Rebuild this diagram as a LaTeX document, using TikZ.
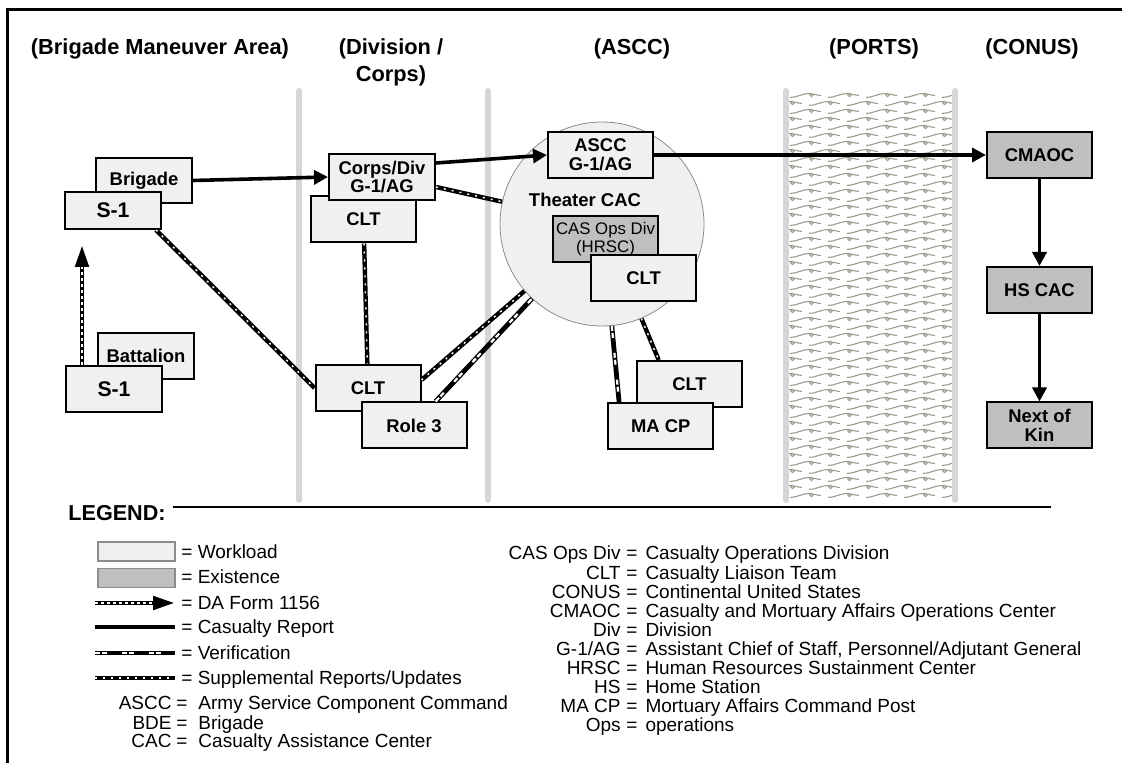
\documentclass[tikz,border=0pt]{standalone}
\usepackage{fontspec}
\setmainfont{Liberation Sans}
\usetikzlibrary{arrows.meta}
\definecolor{cwork}{HTML}{F0F0F0}
\definecolor{cexist}{HTML}{BFBFBF}
\definecolor{csep}{HTML}{D6D6D6}
\definecolor{cwave}{HTML}{9E9B8C}
\definecolor{cring}{HTML}{8C8C8C}

\begin{document}
\begin{tikzpicture}[x=0.5pt,y=-0.5pt,
  box/.style={draw,line width=1pt,fill=cwork,minimum width=52.5pt,minimum height=23pt,
    inner sep=1pt,align=center,font=\fontsize{9.2}{9.4}\selectfont\bfseries},
  exist/.style={box,fill=cexist},
  sbox/.style={box,minimum width=48pt,font=\fontsize{10.6}{12}\selectfont\bfseries},
  head/.style={font=\fontsize{10.9}{13.5}\selectfont\bfseries,align=center},
  sep/.style={csep,line width=3pt,line cap=round},
  rep/.style={line width=1.8pt,-{Triangle[length=7pt,width=7pt]}},
  dafm/.style={line width=2.4pt,-{Triangle[length=11pt,width=6.5pt]},
    postaction={draw,white,line width=1.1pt,-,shorten >=11pt,dash pattern=on 1.5pt off 1.5pt}},
  supp/.style={line width=2.2pt,postaction={draw,white,line width=0.7pt,dash pattern=on 1pt off 3pt}},
  verif/.style={line width=2.4pt,postaction={draw,white,line width=1.1pt,
    dash pattern=on 2.5pt off 1pt on 2.5pt off 7.5pt}},
  legbox/.style={draw=cring,line width=0.6pt,minimum width=38.5pt,minimum height=9.5pt,inner sep=0pt},
  leg/.style={font=\fontsize{9.5}{9.7}\selectfont,inner sep=0pt}]
  \useasboundingbox (0,0) rectangle (1130,763);
  \draw[line width=1.5pt] (7.5,763) -- (7.5,10) -- (1122,10);

  \node[head] (hbma) at (160,49) {(Brigade Maneuver Area)};
  \node[head] (hdiv) at (391,62.5) {(Division /\\Corps)};
  \node[head] (hascc) at (632,49) {(ASCC)};
  \node[head] (hports) at (874,49) {(PORTS)};
  \node[head] (hconus) at (1032,49) {(CONUS)};

  \draw[sep] (299,91) -- (299,500);
  \draw[sep] (488,91) -- (488,500);
  \begin{scope}
    \clip (786,91) rectangle (955,500);
    \foreach \r in {0,...,51}{
      \pgfmathsetmacro\yy{96+8*\r}
      \pgfmathsetmacro\xo{mod(\r,2)*19}
      \foreach \c in {0,...,5}
        \draw[cwave,line width=0.55pt,shift={({752+\xo+38*\c},\yy)}]
          (0,1.5) .. controls (7,1.5) and (12,-2.5) .. (19,-2.5)
          .. controls (23,-2.5) and (25,-1) .. (31,-0.5)
          (21.5,-1) circle (1.6);
    }
  \end{scope}
  \draw[sep] (786,91) -- (786,500);
  \draw[sep] (955,91) -- (955,500);

  \node[circle,draw=cring,line width=0.4pt,fill=cwork,minimum size=102pt,inner sep=0pt] (tcac) at (602,224) {};
  \node[font=\fontsize{9.25}{10}\selectfont\bfseries] (tlbl) at (585,200) {Theater CAC};

  \node[box,minimum width=48pt,minimum height=22.5pt] (brig) at (144,180.5) {Brigade};
  \node[sbox,minimum height=18.5pt] (sone) at (113,210.5) {S-1};
  \node[box,minimum width=48pt] (batt) at (146,356) {Battalion};
  \node[sbox] (stwo) at (114,389.5) {S-1};
  \node[box] (clta) at (363.5,219.5) {CLT};
  \node[box,minimum width=53pt] (corps) at (382,177) {Corps/Div\\G-1/AG};
  \node[box] (cltb) at (368,388) {CLT};
  \node[box] (role) at (414,425.5) {Role 3};
  \node[box] (ascc) at (600.5,155) {ASCC\\G-1/AG};
  \node[exist,font=\fontsize{8.4}{9.3}\selectfont] (casops) at (605.5,239) {CAS Ops Div\\(HRSC)};
  \node[box] (cltc) at (643.6,278) {CLT};
  \node[box] (cltd) at (689.5,384) {CLT};
  \node[box] (macp) at (660.7,426) {MA CP};
  \node[exist] (cmaoc) at (1039.5,155) {CMAOC};
  \node[exist] (hscac) at (1039.5,290) {HS CAC};
  \node[exist] (nok) at (1039.5,425.5) {Next of\\Kin};
  \coordinate (datip) at (82,245);

  \draw[rep] (brig.east) -- (corps.west);
  \draw[rep] ([yshift=7pt]corps.east) -- (ascc.west);
  \draw[rep] (ascc.east) -- (cmaoc.west);
  \draw[rep] (cmaoc) -- (hscac);
  \draw[rep] (hscac) -- (nok);
  \draw[dafm] ([xshift=-16pt]stwo.north) -- (datip);
  \draw[supp] ([xshift=-3pt]sone.south east) -- (cltb.west);
  \draw[supp] ([yshift=-5pt]corps.east) -- (tcac);
  \draw[supp] (clta) -- (cltb);
  \draw[supp] ([yshift=4pt]cltb.east) -- (tcac);
  \draw[verif] ([xshift=10.8pt]role.north) -- (tcac);
  \draw[verif] (tcac) -- ([xshift=-20.8pt]macp.north);
  \draw[supp] (tcac) -- ([xshift=-15.4pt]cltd.north);

  \node[font=\fontsize{10.8}{12}\selectfont\bfseries,anchor=west,inner sep=0pt] (legt) at (68,513) {LEGEND:};
  \draw[line width=1pt] ([xshift=3.5pt,yshift=3pt]legt.east) -- +(878,0);

  \node[legbox,fill=cwork] (lwork) at (136.5,551.5) {};
  \node[legbox,fill=cexist] (lexist) at (136.5,578) {};
  \draw[dafm] (95,603) -- (175,603);
  \draw[line width=2.4pt] (95,627) -- (175,627);
  \draw[verif] (95,653) -- (175,653);
  \draw[supp] (95,678) -- (175,678);
  \foreach \yy/\txt [count=\i] in {552/Workload,577/Existence,603/DA Form 1156,
      627/Casualty Report,653/Verification,678/{Supplemental Reports/Updates}}
    \node[leg,anchor=base west] (lgl\i) at (181,{\yy+7}) {= \txt};
  \foreach \yy/\ab/\df [count=\i] in {703/ASCC/Army Service Component Command,
      722.7/BDE/Brigade,740.7/CAC/Casualty Assistance Center}{
    \node[leg,anchor=base east] (lka\i) at (172,{\yy+7}) {\ab};
    \node[leg,anchor=base west] (lkd\i) at (176,{\yy+7}) {=\hspace{5.5pt}\df};
  }
  \foreach \yy/\ab/\df [count=\i] in {553/CAS Ops Div/Casualty Operations Division,
      573/CLT/Casualty Liaison Team,592/CONUS/Continental United States,
      611/CMAOC/Casualty and Mortuary Affairs Operations Center,630/Div/Division,
      649/{G-1/AG}/{Assistant Chief of Staff, Personnel/Adjutant General},
      668/HRSC/Human Resources Sustainment Center,686.7/HS/Home Station,
      705.7/MA CP/Mortuary Affairs Command Post,724.7/Ops/operations}{
    \node[leg,anchor=base east] (rka\i) at (621,{\yy+7}) {\ab};
    \node[leg,anchor=base west] (rkd\i) at (626,{\yy+7}) {=\hspace{4pt}\df};
  }
\end{tikzpicture}
\end{document}
